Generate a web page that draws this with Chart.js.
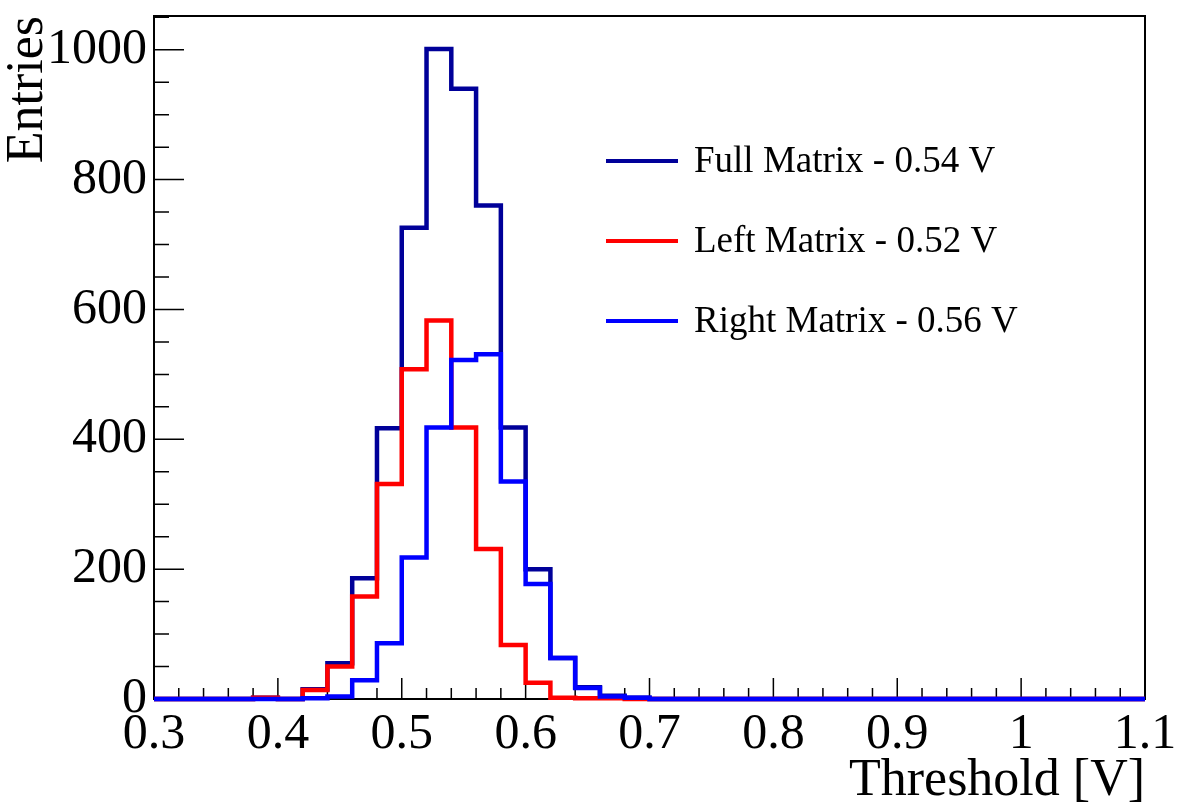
<!DOCTYPE html>
<html>
<head>
<meta charset="utf-8">
<script src="https://cdn.jsdelivr.net/npm/chart.js@4/dist/chart.umd.min.js"></script>
<style>
    html, body { margin: 0; padding: 0; background: #fff; }
    canvas { display: block; }
</style>
</head>
<body>
<canvas id="thresholdChart" width="1182" height="805"></canvas>
<script>
// Bin edges (0.02 V bins from 0.3 to 1.1)
const binEdges = [
    0.30, 0.32, 0.34, 0.36, 0.38, 0.40, 0.42, 0.44, 0.46, 0.48,
    0.50, 0.52, 0.54, 0.56, 0.58, 0.60, 0.62, 0.64, 0.66, 0.68,
    0.70, 0.72, 0.74, 0.76, 0.78, 0.80, 0.82, 0.84, 0.86, 0.88,
    0.90, 0.92, 0.94, 0.96, 0.98, 1.00, 1.02, 1.04, 1.06, 1.08, 1.10
];

// Entries per bin
const fullMatrix = [
    0, 0, 0, 0, 2, 0, 15, 55, 186, 417,
    726, 1001, 940, 760, 418, 200, 63, 18, 5, 2,
    0, 0, 0, 0, 0, 0, 0, 0, 0, 0,
    0, 0, 0, 0, 0, 0, 0, 0, 0, 0
];
const leftMatrix = [
    0, 0, 0, 0, 2, 0, 14, 50, 158, 331,
    508, 583, 418, 231, 83, 25, 2, 1, 1, 0,
    0, 0, 0, 0, 0, 0, 0, 0, 0, 0,
    0, 0, 0, 0, 0, 0, 0, 0, 0, 0
];
const rightMatrix = [
    0, 0, 0, 0, 0, 0, 1, 4, 29, 86,
    218, 418, 522, 531, 335, 177, 63, 17, 4, 2,
    0, 0, 0, 0, 0, 0, 0, 0, 0, 0,
    0, 0, 0, 0, 0, 0, 0, 0, 0, 0
];

const seriesLabels = ['Full Matrix - 0.54 V', 'Left Matrix - 0.52 V', 'Right Matrix - 0.56 V'];
const seriesColors = ['#000099', '#ff0000', '#0000ff'];

// Axis ticks
const xTickValues = [0.3, 0.4, 0.5, 0.6, 0.7, 0.8, 0.9, 1.0, 1.1];
const xTickLabels = ['0.3', '0.4', '0.5', '0.6', '0.7', '0.8', '0.9', '1', '1.1'];
const yTickValues = [0, 200, 400, 600, 800, 1000];
const yTickLabels = ['0', '200', '400', '600', '800', '1000'];

const SERIF = '"Liberation Serif", "DejaVu Serif", serif';

// histogram -> step points at bin edges
function toSteps(values) {
    const pts = values.map((v, i) => ({ x: binEdges[i], y: v }));
    pts.push({ x: binEdges[binEdges.length - 1], y: values[values.length - 1] });
    return pts;
}

// ROOT-style frame with inward ticks
const frameTicks = {
    id: 'frameTicks',
    beforeDatasetsDraw(chart) {
        const { ctx, chartArea: a, scales } = chart;
        const xs = scales.x, ys = scales.y;
        ctx.save();
        ctx.strokeStyle = '#000';
        ctx.lineWidth = 2;
        ctx.strokeRect(a.left, a.top, a.right - a.left, a.bottom - a.top);

        ctx.lineWidth = 1.5;
        ctx.beginPath();
        // x ticks: major every 0.1, minor every 0.02
        for (let k = 0; k <= 40; k++) {
            const px = xs.getPixelForValue(0.3 + k * 0.02);
            const len = (k % 5 === 0) ? 21 : 11;
            ctx.moveTo(px, a.bottom);
            ctx.lineTo(px, a.bottom - len);
        }
        // y ticks: major every 200, minor every 50
        for (let v = 0; v <= ys.max; v += 50) {
            const py = ys.getPixelForValue(v);
            const len = (v % 200 === 0) ? 30 : 15;
            ctx.moveTo(a.left, py);
            ctx.lineTo(a.left + len, py);
        }
        ctx.stroke();
        ctx.restore();
    },
    afterDraw(chart) {
        const { ctx, chartArea: a } = chart;
        ctx.save();
        ctx.fillStyle = '#000';

        // axis titles
        ctx.font = '52px ' + SERIF;
        ctx.textAlign = 'right';
        ctx.textBaseline = 'alphabetic';
        ctx.fillText('Threshold [V]', a.right, 795);

        ctx.translate(42, a.top);
        ctx.rotate(-Math.PI / 2);
        ctx.fillText('Entries', 0, 0);
        ctx.restore();

        // legend
        ctx.save();
        ctx.font = '37px ' + SERIF;
        ctx.textAlign = 'left';
        ctx.textBaseline = 'middle';
        ctx.lineWidth = 4;
        seriesLabels.forEach((label, i) => {
            const y = 161 + i * 80;
            ctx.strokeStyle = seriesColors[i];
            ctx.beginPath();
            ctx.moveTo(606, y);
            ctx.lineTo(678, y);
            ctx.stroke();
            ctx.fillStyle = '#000';
            ctx.fillText(label, 694, y + 1);
        });
        ctx.restore();
    }
};

function makeDataset(idx, values, order) {
    return {
        label: seriesLabels[idx],
        data: toSteps(values),
        borderColor: seriesColors[idx],
        backgroundColor: seriesColors[idx],
        borderWidth: 4.5,
        stepped: 'before',
        pointRadius: 0,
        fill: false,
        clip: false,
        order: order
    };
}

const tickFont = { family: SERIF, size: 50 };

new Chart(document.getElementById('thresholdChart'), {
    type: 'line',
    data: {
        datasets: [
            makeDataset(0, fullMatrix, 3),
            makeDataset(1, leftMatrix, 2),
            makeDataset(2, rightMatrix, 1)
        ]
    },
    options: {
        responsive: false,
        animation: false,
        layout: { padding: { left: 0, top: 16, right: 37, bottom: 0 } },
        plugins: {
            legend: { display: false },
            tooltip: { enabled: false }
        },
        scales: {
            x: {
                type: 'linear',
                min: 0.3,
                max: 1.1,
                afterBuildTicks: s => { s.ticks = xTickValues.map(v => ({ value: v })); },
                afterFit: s => { s.height = 106; s.paddingLeft = 0; s.paddingRight = 0; },
                ticks: {
                    callback: (v, i) => xTickLabels[i],
                    font: tickFont,
                    color: '#000',
                    padding: 6,
                    maxRotation: 0,
                    autoSkip: false
                },
                grid: { display: false, drawTicks: false },
                border: { display: false }
            },
            y: {
                min: 0,
                max: 1052,
                afterBuildTicks: s => { s.ticks = yTickValues.map(v => ({ value: v })); },
                afterFit: s => { s.width = 154; s.paddingTop = 0; s.paddingBottom = 0; },
                ticks: {
                    callback: (v, i) => yTickLabels[i],
                    font: tickFont,
                    color: '#000',
                    padding: 7,
                    autoSkip: false
                },
                grid: { display: false, drawTicks: false },
                border: { display: false }
            }
        }
    },
    plugins: [frameTicks]
});
</script>
</body>
</html>
